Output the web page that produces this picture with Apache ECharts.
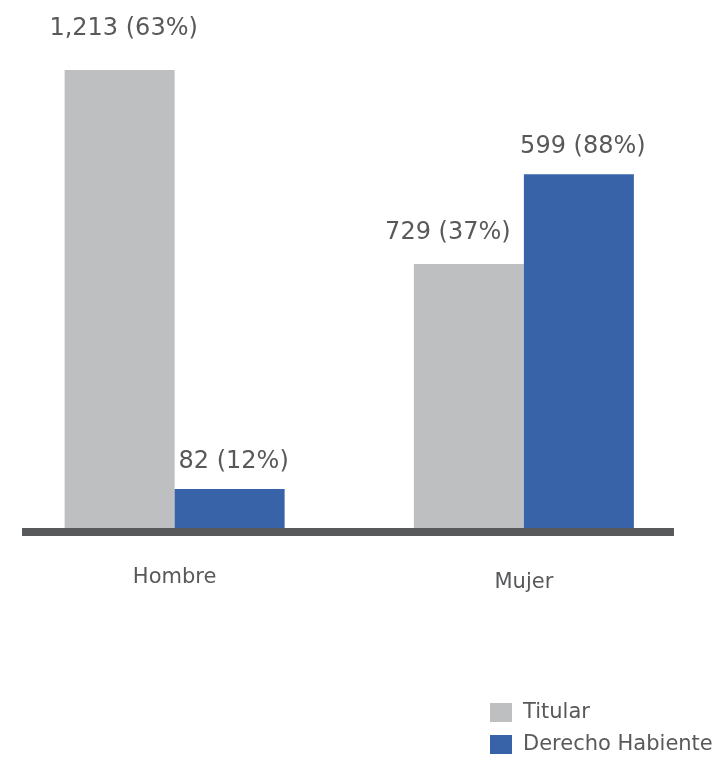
<!DOCTYPE html>
<html>
<head>
<meta charset="utf-8">
<script src="https://cdn.jsdelivr.net/npm/echarts@6/dist/echarts.min.js"></script>
<style>html,body{margin:0;padding:0;background:#fff;}#c{width:716px;height:772px;}</style>
</head>
<body>
<div id="c"></div>
<script>
const categories = ['Hombre', 'Mujer'];
const seriesNames = ['Titular', 'Derecho Habiente'];
const titular = [1213, 729];
const titularPct = [63, 37];
const derecho = [82, 599];
const derechoPct = [12, 88];

const TEXT = '#58595b';
const FONT = 'DejaVu Sans';

// label tweaks (style only), keyed by series/index
const labelTweak = {
  t0: { distance: 29, offset: [4, 0] },
  t1: { distance: 19, offset: [-21, 0] },
  d0: { distance: 15, offset: [4, 0] },
  d1: { distance: 15, offset: [4, 0] }
};

function fmt(v, p) { return v.toLocaleString('en-US') + ' (' + p + '%)'; }

function buildData(vals, pcts, key) {
  return vals.map((v, i) => ({
    value: v,
    label: Object.assign({ formatter: fmt(v, pcts[i]) }, labelTweak[key + i])
  }));
}

const chart = echarts.init(document.getElementById('c'), null, { renderer: 'canvas' });
chart.setOption({
  animation: false,
  backgroundColor: '#ffffff',
  textStyle: { fontFamily: FONT },
  grid: [
    { left: 0, right: 17.5, top: 70, bottom: 244 },
    { left: 22, right: 42, top: 70, bottom: 240 }
  ],
  xAxis: [
    {
      type: 'category', gridIndex: 0, data: categories,
      axisLine: { show: false }, axisTick: { show: false },
      axisLabel: {
        margin: 39, color: TEXT, fontSize: 21, fontFamily: FONT,
        formatter: function (v) { return v === 'Mujer' ? '{m|' + v + '}' : '{h|' + v + '}'; },
        rich: {
          h: { fontSize: 21, color: TEXT, fontFamily: FONT },
          m: { fontSize: 21, color: TEXT, fontFamily: FONT, padding: [5, 0, 0, 0] }
        }
      }
    },
    {
      type: 'value', gridIndex: 1, min: 0, max: 1,
      axisLine: { show: true, onZero: false, lineStyle: { color: '#58595b', width: 8, cap: 'butt' } },
      axisTick: { show: false }, axisLabel: { show: false }, splitLine: { show: false }
    }
  ],
  yAxis: [
    { type: 'value', gridIndex: 0, min: 70, max: 1213, show: false, splitLine: { show: false } },
    { type: 'value', gridIndex: 0, min: 18, max: 770, show: false, splitLine: { show: false } },
    { type: 'value', gridIndex: 1, show: false, splitLine: { show: false } }
  ],
  legend: {
    orient: 'vertical', left: 485, top: 697,
    icon: 'rect', itemWidth: 22, itemHeight: 19, itemGap: 11,
    textStyle: { color: TEXT, fontSize: 21, fontFamily: FONT, padding: [0, 0, 0, 6] },
    data: seriesNames
  },
  series: [
    {
      name: seriesNames[0], type: 'bar', xAxisIndex: 0, yAxisIndex: 0,
      barWidth: 110, barGap: '0%',
      itemStyle: { color: '#bebfc1' },
      label: { show: true, position: 'top', color: TEXT, fontSize: 24, fontFamily: FONT },
      data: buildData(titular, titularPct, 't')
    },
    {
      name: seriesNames[1], type: 'bar', xAxisIndex: 0, yAxisIndex: 1,
      barWidth: 110, barGap: '0%',
      itemStyle: { color: '#3863a8' },
      label: { show: true, position: 'top', color: TEXT, fontSize: 24, fontFamily: FONT },
      data: buildData(derecho, derechoPct, 'd')
    }
  ]
});
</script>
</body>
</html>
